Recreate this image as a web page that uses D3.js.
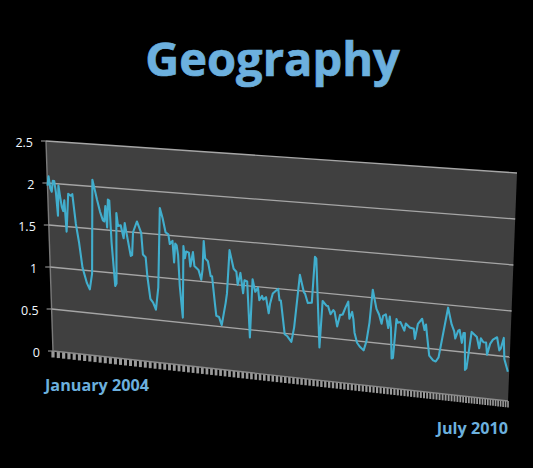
<!DOCTYPE html>
<html>
<head>
<meta charset="utf-8">
<script src="https://cdn.jsdelivr.net/npm/d3@7"></script>
<style>
  html, body { margin: 0; padding: 0; background: #000; }
  svg { display: block; }
</style>
</head>
<body>
<svg id="chart" width="533" height="468"></svg>
<script>
const title = 'Geography'
const startLabel = 'January 2004'
const endLabel = 'July 2010'
const tickValues = [0, 0.5, 1, 1.5, 2, 2.5]

// weeks since January 2004 at the line's vertices
const weeks = [
  0, 1, 2, 3, 4, 5, 6, 7, 8, 9, 10, 11, 12, 13, 15, 17, 18, 20, 22, 24, 27, 29, 31, 33, 35, 36, 38, 40, 41, 42,
  43, 44, 45, 46, 48, 49, 50, 51, 53, 55, 56, 57, 60, 61, 62, 65, 68, 69, 71, 72, 74, 76, 78, 80, 82, 84, 86, 88,
  89, 91, 92, 93, 94, 95, 96, 98, 99, 100, 101, 103, 104, 106, 107, 110, 112, 113, 114, 115, 117, 119, 120, 122,
  123, 125, 127, 130, 131, 133, 136, 138, 139, 141, 143, 144, 146, 148, 150, 152, 154, 155, 157, 158, 160, 162,
  163, 165, 169, 170, 171, 174, 176, 179, 181, 185, 188, 189, 191, 194, 196, 197, 200, 202, 205, 206, 208, 210,
  211, 213, 215, 217, 219, 221, 222, 224, 225, 226, 228, 230, 233, 235, 237, 239, 242, 244, 246, 247, 249, 251,
  252, 253, 254, 255, 257, 258, 260, 263, 264, 267, 270, 271, 273, 276, 278, 279, 280, 282, 285, 287, 289, 295,
  298, 300, 301, 303, 304, 306, 307, 308, 309, 310, 313, 317, 319, 320, 322, 324, 325, 327, 329, 332, 334, 335,
  337, 338, 341
]
const values = [
  1.97, 2.08, 1.94, 1.90, 2.03, 2.03, 1.90, 1.62, 1.98, 1.85, 1.73, 1.68, 1.81, 1.44, 1.89, 1.87, 1.89, 1.54, 1.32, 1.03, 0.85, 0.78, 0.97, 2.08, 1.93, 1.85, 1.71, 1.61, 1.60, 1.78,
  1.53, 1.86, 1.85, 1.36, 0.85, 0.88, 1.71, 1.56, 1.57, 1.42, 1.60, 1.50, 1.22, 1.23, 1.50, 1.63, 1.50, 1.25, 1.22, 1.00, 0.74, 0.70, 0.62, 0.88, 1.81, 1.69, 1.53, 1.51,
  1.40, 1.44, 1.19, 1.41, 1.39, 1.28, 0.92, 0.56, 1.39, 1.25, 1.33, 1.32, 1.16, 1.33, 1.17, 1.13, 1.02, 1.14, 1.47, 1.27, 1.24, 1.07, 1.07, 0.76,
  0.62, 0.61, 0.52, 0.78, 0.89, 1.39, 1.18, 1.15, 1.00, 1.14, 0.91, 1.06, 1.05, 0.41, 1.08, 0.94, 0.99, 0.85, 0.90, 0.86, 0.89, 0.71,
  0.82, 0.94, 1.00, 0.87, 0.87, 0.49, 0.47, 0.41, 0.58, 1.18, 0.99, 0.97, 0.87, 0.88, 1.40, 1.38, 0.38, 0.91, 0.86, 0.86, 0.77, 0.82,
  0.80, 0.64, 0.77, 0.78, 0.86, 0.93, 0.74, 0.82, 0.74, 0.59, 0.48, 0.44, 0.40, 0.51, 0.72, 1.09, 0.88, 0.82, 0.72, 0.81, 0.83, 0.68,
  0.81, 0.69, 0.34, 0.35, 0.79, 0.75, 0.76, 0.67, 0.75, 0.71, 0.70, 0.59, 0.76, 0.82, 0.70, 0.76, 0.64, 0.42, 0.37, 0.36, 0.41, 0.97,
  0.79, 0.72, 0.64, 0.73, 0.74, 0.60, 0.71, 0.71, 0.30, 0.32, 0.73, 0.68, 0.56, 0.67, 0.63, 0.63, 0.50, 0.62, 0.67, 0.70, 0.56, 0.58,
  0.70, 0.47, 0.33
]

const svg = d3.select('#chart')
const lastWeek = 342
const tickCount = 118

// the wall is a skewed quad, so a point is mixed between its left and right edges
const along = d3.scaleLinear().domain([0, lastWeek]).range([0, 1])
const leftX = d3.scaleLinear().domain([0, 2.5]).range([53, 46])
const leftY = d3.scaleLinear().domain([0, 2.5]).range([351, 141])
const rightX = d3.scaleLinear().domain([0, 2.5]).range([508, 517])
const rightY = d3.scaleLinear().domain([0, 0.5, 2.5]).range([401, 357, 173])

const px = function (week, value) {
  return d3.interpolateNumber(leftX(value), rightX(value))(along(week))
}
const py = function (week, value) {
  return d3.interpolateNumber(leftY(value), rightY(value))(along(week))
}

svg.append('polygon')
  .attr('points', [[0, 0], [0, 2.5], [lastWeek, 2.5], [lastWeek, 0]]
    .map(d => px(d[0], d[1]) + ',' + py(d[0], d[1])).join(' '))
  .attr('fill', '#404040')

// floor ticks bunch up towards the far end
const tickPos = function (i) {
  const u = i / (tickCount - 1)
  return lastWeek * (5.3 * u - 1.45 * u * u) / 3.85
}
svg.append('g').selectAll('line')
  .data(d3.range(tickCount))
  .join('line')
  .attr('x1', i => px(tickPos(i), 0))
  .attr('x2', i => px(tickPos(i), 0))
  .attr('y1', i => py(tickPos(i), 0))
  .attr('y2', i => py(tickPos(i), 0) + 6.5)
  .attr('stroke', '#9a9a9a')
  .attr('stroke-width', i => 3.2 - 1.6 * i / tickCount)

// floor edge and left edge of the wall
svg.append('line')
  .attr('x1', px(0, 0)).attr('y1', py(0, 0))
  .attr('x2', px(lastWeek, 0)).attr('y2', py(lastWeek, 0))
  .attr('stroke', '#8a8a8a').attr('stroke-width', 1.4)
svg.append('line')
  .attr('x1', px(0, 0)).attr('y1', py(0, 0))
  .attr('x2', px(0, 2.5)).attr('y2', py(0, 2.5))
  .attr('stroke', '#7a7a7a').attr('stroke-width', 1.4)

const gridValues = tickValues.filter(d => d > 0)
svg.append('g').selectAll('line')
  .data(gridValues)
  .join('line')
  .attr('x1', d => px(0, d))
  .attr('y1', d => py(0, d))
  .attr('x2', d => px(lastWeek, d))
  .attr('y2', d => py(lastWeek, d))
  .attr('stroke', '#a6a6a6')
  .attr('stroke-width', 1.3)

svg.append('g').selectAll('line')
  .data(tickValues)
  .join('line')
  .attr('x1', d => px(0, d) - 5)
  .attr('x2', d => px(0, d))
  .attr('y1', d => py(0, d))
  .attr('y2', d => py(0, d))
  .attr('stroke', '#8a8a8a')
  .attr('stroke-width', 1.2)

svg.append('g').selectAll('text')
  .data(tickValues)
  .join('text')
  .attr('x', d => px(0, d) - 13)
  .attr('y', d => py(0, d) + 6)
  .attr('text-anchor', 'end')
  .attr('font-family', '"Open Sans", sans-serif')
  .attr('font-size', 12.5)
  .attr('fill', '#f2f8ff')
  .text(d => d)

const line = d3.line()
  .x((d, i) => px(weeks[i], d))
  .y((d, i) => py(weeks[i], d))

svg.append('path')
  .datum(values)
  .attr('d', line)
  .attr('fill', 'none')
  .attr('stroke', '#41aecd')
  .attr('stroke-width', 2.1)
  .attr('stroke-linejoin', 'round')

svg.append('text')
  .attr('x', 272.5)
  .attr('y', 76)
  .attr('text-anchor', 'middle')
  .attr('font-family', '"Open Sans", sans-serif')
  .attr('font-weight', 700)
  .attr('font-size', 47)
  .attr('fill', '#6cb0de')
  .attr('stroke', '#6cb0de')
  .attr('stroke-width', 0.7)
  .text(title)

svg.append('text')
  .attr('x', 45)
  .attr('y', 391)
  .attr('font-family', '"Open Sans", sans-serif')
  .attr('font-weight', 700)
  .attr('font-size', 16.2)
  .attr('fill', '#6cb0de')
  .text(startLabel)

svg.append('text')
  .attr('x', 508)
  .attr('y', 434)
  .attr('text-anchor', 'end')
  .attr('font-family', '"Open Sans", sans-serif')
  .attr('font-weight', 700)
  .attr('font-size', 16.2)
  .attr('fill', '#6cb0de')
  .text(endLabel)
</script>
</body>
</html>
